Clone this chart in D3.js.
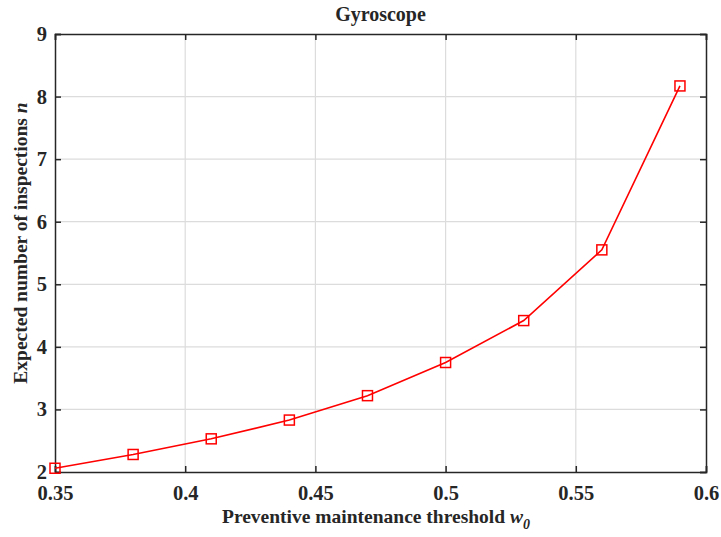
<!DOCTYPE html>
<html>
<head>
<meta charset="utf-8">
<script src="https://cdn.jsdelivr.net/npm/d3@7"></script>
<style>
  html, body { margin: 0; padding: 0; background: #fff; }
  svg { display: block; }
  text { font-family: "Liberation Serif", "Times New Roman", serif; font-weight: bold; fill: #262626; }
</style>
</head>
<body>
<svg id="chart" width="721" height="537"></svg>
<script>
// Threshold values and expected inspection counts
const thresholds = [0.35, 0.38, 0.41, 0.44, 0.47, 0.50, 0.53, 0.56, 0.59];
const inspections = [2.06, 2.28, 2.53, 2.83, 3.22, 3.75, 4.42, 5.55, 8.17];
const xTicks = [0.35, 0.4, 0.45, 0.5, 0.55, 0.6];
const yTicks = [2, 3, 4, 5, 6, 7, 8, 9];

const W = 721, H = 537;
const margin = { left: 55, right: 15, top: 34, bottom: 65 };
const svg = d3.select("#chart");

const x = d3.scaleLinear().domain([0.35, 0.6]).range([margin.left, W - margin.right]);
const y = d3.scaleLinear().domain([2, 9]).range([H - margin.bottom, margin.top]);

const x0 = x.range()[0], x1 = x.range()[1];
const y0 = y.range()[0], y1 = y.range()[1];

// grid
const grid = svg.append("g").attr("stroke", "#dcdcdc").attr("stroke-width", 1.2);
grid.selectAll(".gx").data(xTicks.slice(1, -1)).join("line")
  .attr("x1", d => x(d)).attr("x2", d => x(d)).attr("y1", y0).attr("y2", y1);
grid.selectAll(".gy").data(yTicks.slice(1, -1)).join("line")
  .attr("y1", d => y(d)).attr("y2", d => y(d)).attr("x1", x0).attr("x2", x1);

// axes with inward ticks, mirrored on top and right
svg.append("g").attr("class", "xaxis").attr("transform", `translate(0,${y0})`)
  .call(d3.axisBottom(x).tickValues(xTicks).tickSize(-6).tickPadding(13).tickFormat(d => +d.toFixed(2) + ""));
svg.append("g").attr("transform", `translate(0,${y1})`)
  .call(d3.axisTop(x).tickValues(xTicks).tickSize(-6).tickFormat(""));
svg.append("g").attr("class", "yaxis").attr("transform", `translate(${x0},0)`)
  .call(d3.axisLeft(y).tickValues(yTicks).tickSize(-6).tickPadding(8).tickFormat(d3.format("d")));
svg.append("g").attr("transform", `translate(${x1},0)`)
  .call(d3.axisRight(y).tickValues(yTicks).tickSize(-6).tickFormat(""));

svg.selectAll("g.xaxis, g.yaxis").attr("font-size", 20.5).attr("font-family", null);
svg.selectAll(".domain").attr("stroke", "#262626").attr("stroke-width", 1.5);
svg.selectAll(".tick line").attr("stroke", "#262626").attr("stroke-width", 1.5);
svg.selectAll(".tick text").attr("fill", "#262626");

// line and markers
const pts = thresholds.map((t, i) => [t, inspections[i]]);
svg.append("path").datum(pts)
  .attr("fill", "none").attr("stroke", "#ff0000").attr("stroke-width", 1.6)
  .attr("d", d3.line().x(d => x(d[0])).y(d => y(d[1])));
const s = 10;
svg.selectAll(".mk").data(pts).join("rect")
  .attr("x", d => x(d[0]) - s / 2).attr("y", d => y(d[1]) - s / 2)
  .attr("width", s).attr("height", s)
  .attr("fill", "none").attr("stroke", "#ff0000").attr("stroke-width", 1.5);

// titles
svg.append("text").attr("x", (x0 + x1) / 2).attr("y", 21).attr("text-anchor", "middle")
  .attr("font-size", 20).text("Gyroscope");

const xl = svg.append("text").attr("x", 376).attr("y", 523).attr("text-anchor", "middle")
  .attr("font-size", 19.5);
xl.append("tspan").text("Preventive maintenance threshold ");
xl.append("tspan").attr("font-style", "italic").text("w");
xl.append("tspan").attr("font-style", "italic").attr("font-size", 14).attr("dy", 6).text("0");

const yl = svg.append("text").attr("transform", `translate(27,243) rotate(-90)`)
  .attr("text-anchor", "middle").attr("font-size", 19.5);
yl.append("tspan").text("Expected number of inspections ");
yl.append("tspan").attr("font-style", "italic").text("n");
</script>
</body>
</html>
